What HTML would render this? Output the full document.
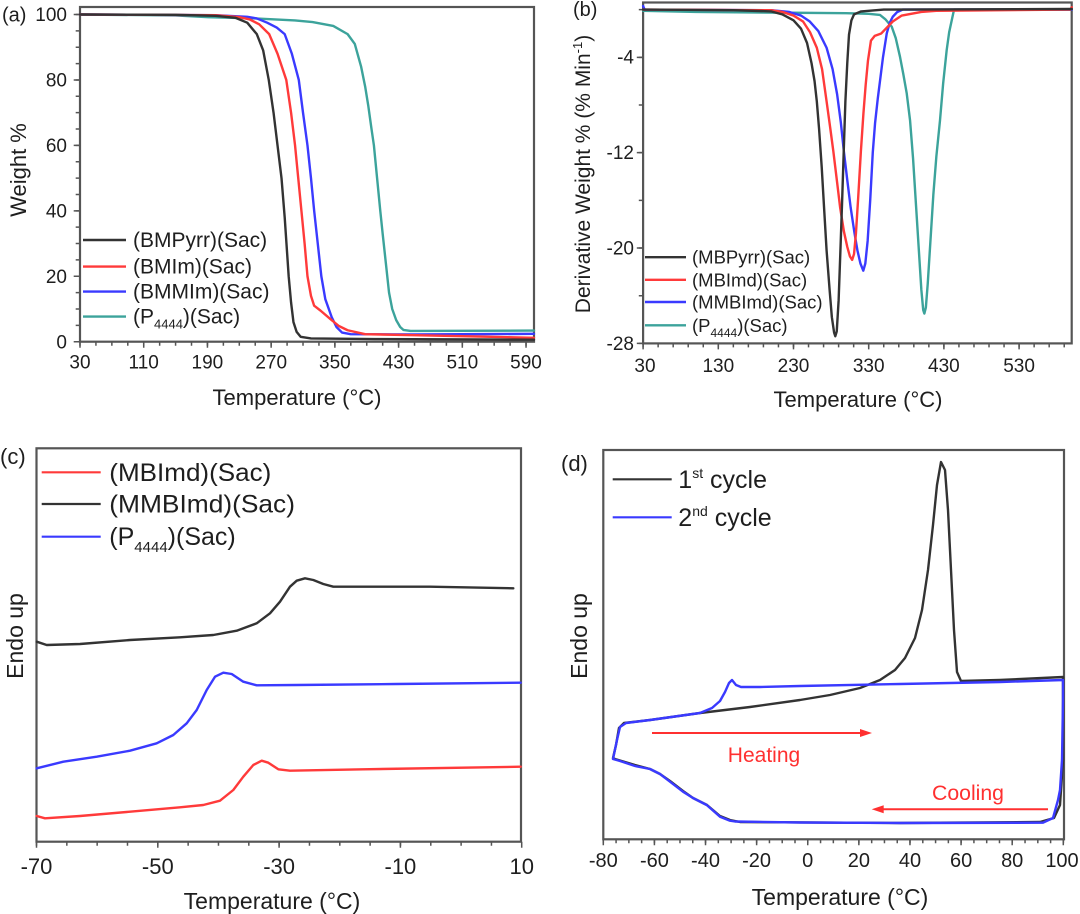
<!DOCTYPE html>
<html>
<head>
<meta charset="utf-8">
<style>
html,body{margin:0;padding:0;background:#fff;}
svg{display:block;}
text{font-family:"Liberation Sans",Arial,sans-serif;fill:#1e1e1e;}
</style>
</head>
<body>
<svg width="1080" height="914" viewBox="0 0 1080 914" xmlns="http://www.w3.org/2000/svg">
<rect width="1080" height="914" fill="#fff"/>

<!-- ================= PANEL (a) ================= -->
<g stroke="#555" fill="none">
  <rect x="80" y="7" width="454" height="334.7" stroke-width="2.2"/>
  <line x1="79.25" y1="343.7" x2="534" y2="343.7" stroke-width="4" stroke-dasharray="1.5 14.43"/>
  <line x1="79.25" y1="344.7" x2="534" y2="344.7" stroke-width="6" stroke-dasharray="1.5 62.22"/>
  <line x1="77.7" y1="342.45" x2="77.7" y2="7" stroke-width="4" stroke-dasharray="1.5 14.86"/>
  <line x1="76.7" y1="342.45" x2="76.7" y2="7" stroke-width="6" stroke-dasharray="1.5 63.94"/>
</g>
<g font-size="19" text-anchor="end">
  <text x="67" y="21">100</text>
  <text x="67" y="86.5">80</text>
  <text x="67" y="152">60</text>
  <text x="67" y="217.5">40</text>
  <text x="67" y="283">20</text>
  <text x="67" y="348.5">0</text>
</g>
<g font-size="19" text-anchor="middle">
  <text x="80" y="368.5">30</text>
  <text x="143.7" y="368.5">110</text>
  <text x="207.4" y="368.5">190</text>
  <text x="271.2" y="368.5">270</text>
  <text x="334.9" y="368.5">350</text>
  <text x="398.6" y="368.5">430</text>
  <text x="462.3" y="368.5">510</text>
  <text x="526" y="368.5">590</text>
</g>
<text x="2" y="21.5" font-size="20">(a)</text>
<text x="297" y="405" font-size="22" text-anchor="middle">Temperature (°C)</text>
<text transform="translate(26,170) rotate(-90)" font-size="22" text-anchor="middle">Weight %</text>

<g transform="matrix(0.7965,0,0,-3.272,56.1,341.7)" fill="none" stroke-width="2.4" stroke-linejoin="round" stroke-linecap="round">
  <polyline vector-effect="non-scaling-stroke" stroke="#3cA39b" points="30,100 150,99.7 191,99.2 250,98.8 300,98.2 322,97.7 348,96.5 366,94 375,91 383,84 388,78 392,72 396,65 399,60 403,50 407,40 410,33 414,24 418,15 422,10 427,6.6 432,4.5 436,3.6 445,3.3 600,3.4"/>
  <polyline vector-effect="non-scaling-stroke" stroke="#3a3aff" points="30,100 200,99.8 240,99.3 252,98.8 265,97.5 277,96 287,94 296,88 304.7,80 310,70 315.6,60 320,50 324,40 328.5,30 333,20 338,13 346,7.5 352,4.5 359,2.8 370,2.3 450,2.2 600,2.4"/>
  <polyline vector-effect="non-scaling-stroke" stroke="#ff3a3a" points="30,100 200,99.8 230,99.2 243,98.5 255,97 267.5,94 278,88 289,80 295,70 300,60 304,50 308,40 312,30 315.6,20 320,14 324,11 332,9.5 344,7 355,4.8 366,3.5 388,2.3 450,2 600,1.2"/>
  <polyline vector-effect="non-scaling-stroke" stroke="#333" points="30,100 150,99.9 200,99.6 225,99 240,97.5 252,94 260,89 267,80 273,70 278,60 283,50 287,38 292,20 295,12 298,6 302,3 307,1.5 320,1 400,0.8 600,0.6"/>
</g>
<!-- legend a -->
<g stroke-width="2.4">
  <line x1="83" y1="240" x2="126" y2="240" stroke="#333"/>
  <line x1="83" y1="266.6" x2="126" y2="266.6" stroke="#ff3a3a"/>
  <line x1="83" y1="291.6" x2="126" y2="291.6" stroke="#3a3aff"/>
  <line x1="83" y1="316.6" x2="126" y2="316.6" stroke="#3cA39b"/>
</g>
<g font-size="21">
  <text x="133" y="247">(BMPyrr)(Sac)</text>
  <text x="133" y="273.6">(BMIm)(Sac)</text>
  <text x="133" y="298.6">(BMMIm)(Sac)</text>
  <text x="133" y="323.6">(P<tspan font-size="13" dy="5">4444</tspan><tspan dy="-5">)(Sac)</tspan></text>
</g>

<!-- ================= PANEL (b) ================= -->
<g stroke="#555" fill="none">
  <rect x="643.1" y="2.5" width="428.6" height="340.9" stroke-width="2.2"/>
  <line x1="642.35" y1="345.4" x2="1071.7" y2="345.4" stroke-width="4" stroke-dasharray="1.5 13.54"/>
  <line x1="642.35" y1="346.4" x2="1071.7" y2="346.4" stroke-width="6" stroke-dasharray="1.5 73.7"/>
  <line x1="640.8" y1="344.15" x2="640.8" y2="2.5" stroke-width="4" stroke-dasharray="1.5 46.18"/>
  <line x1="639.8" y1="344.15" x2="639.8" y2="2.5" stroke-width="6" stroke-dasharray="1.5 93.86"/>
</g>
<g font-size="19" text-anchor="end">
  <text x="634" y="63.5">-4</text>
  <text x="634" y="159">-12</text>
  <text x="634" y="254.5">-20</text>
  <text x="634" y="350">-28</text>
</g>
<g font-size="19" text-anchor="middle">
  <text x="645" y="372">30</text>
  <text x="718.3" y="372">130</text>
  <text x="793.5" y="372">230</text>
  <text x="868.7" y="372">330</text>
  <text x="943.9" y="372">430</text>
  <text x="1019.1" y="372">530</text>
</g>
<text x="573" y="16" font-size="20">(b)</text>
<text x="858" y="407" font-size="22" text-anchor="middle">Temperature (°C)</text>
<text transform="translate(590,174) rotate(-90)" font-size="21" text-anchor="middle">Derivative Weight % (% Min<tspan font-size="13" dy="-8">-1</tspan><tspan dy="8">)</tspan></text>

<g transform="matrix(0.752,0,0,-11.92,620.54,9.6)" fill="none" stroke-width="2.4" stroke-linejoin="round" stroke-linecap="round">
  <polyline vector-effect="non-scaling-stroke" stroke="#3cA39b" points="30,-0.1 100,-0.2 300,-0.3 330,-0.35 345,-0.45 352,-0.8 360.6,-1.43 366,-2.4 371.6,-3.95 376,-5.4 380.5,-7 385,-9.3 389,-12.5 393,-16.5 397,-20.5 400,-23.5 402.5,-25.2 404,-25.5 406,-25 408.5,-23 412,-19.5 416,-15.5 420,-12.3 424.8,-9.3 429,-6.2 433.7,-3.4 437,-1.9 440.4,-0.9 443.5,0 600,0"/>
  <polyline vector-effect="non-scaling-stroke" stroke="#3a3aff" points="30,0.3 32,0 200,-0.05 224.6,-0.2 240,-0.5 251.7,-1 263,-1.8 274,-3.2 282,-5 288,-7.1 293,-9.5 297,-11.9 301.5,-14.3 306,-16.6 311,-18.7 315,-20.2 319,-21.3 322.8,-21.9 325.5,-21.3 328.6,-19.4 332,-16 335.4,-12 338.5,-9.5 342,-7.5 345,-6 349,-4 354,-2 358,-1.1 362,-0.6 368,-0.2 375,0 600,0"/>
  <polyline vector-effect="non-scaling-stroke" stroke="#ff3a3a" points="30,0 200,-0.05 215.5,-0.2 230,-0.5 242.7,-1 252,-1.9 261,-3.2 268,-5 274,-7.7 279,-10 283,-11.9 288,-14.5 292,-16.6 297,-18.6 301.5,-19.9 305,-20.7 308,-21 310.5,-20.5 313,-18.8 316,-15.8 319.6,-11.9 323,-8.7 326,-6.3 329,-4.3 333,-2.6 338,-2.2 346.7,-2 355.8,-1.4 362,-1.0 374,-0.5 400,-0.2 420,-0.1 598,0 600,0.2"/>
  <polyline vector-effect="non-scaling-stroke" stroke="#333" points="30,0 150,-0.05 200,-0.15 215,-0.4 230,-0.9 240,-1.6 248,-2.8 254,-4.5 258,-6 261,-7.7 264,-10 267.5,-13.2 271,-17 274,-20.2 278,-23.5 281,-25.8 284,-27.1 285.6,-27.4 287.5,-27 290,-24.4 292.5,-20 294.7,-16 297,-11.5 299,-7.7 301.5,-4.5 303.8,-2.1 307,-0.9 310.5,-0.4 320,-0.15 350,0 600,0.05"/>
</g>
<!-- legend b -->
<g stroke-width="2.4">
  <line x1="645" y1="257.2" x2="686" y2="257.2" stroke="#333"/>
  <line x1="645" y1="279.8" x2="686" y2="279.8" stroke="#ff3a3a"/>
  <line x1="645" y1="302" x2="686" y2="302" stroke="#3a3aff"/>
  <line x1="645" y1="325.3" x2="686" y2="325.3" stroke="#3cA39b"/>
</g>
<g font-size="18.5">
  <text x="692" y="263.7">(MBPyrr)(Sac)</text>
  <text x="692" y="286.3">(MBImd)(Sac)</text>
  <text x="692" y="308.5">(MMBImd)(Sac)</text>
  <text x="692" y="331.8">(P<tspan font-size="12" dy="5">4444</tspan><tspan dy="-5">)(Sac)</tspan></text>
</g>

<!-- ================= PANEL (c) ================= -->
<g stroke="#555" fill="none">
  <rect x="36.5" y="448.3" width="484.5" height="393.4" stroke-width="2.2"/>
  <line x1="35.75" y1="843.7" x2="521.5" y2="843.7" stroke-width="4" stroke-dasharray="1.5 28.83"/>
  <line x1="35.75" y1="844.7" x2="523" y2="844.7" stroke-width="6" stroke-dasharray="1.5 119.8"/>
</g>
<g font-size="22" text-anchor="middle">
  <text x="36.5" y="874">-70</text>
  <text x="157.8" y="874">-50</text>
  <text x="279.1" y="874">-30</text>
  <text x="400.4" y="874">-10</text>
  <text x="521.7" y="874">10</text>
</g>
<text x="0" y="464" font-size="22">(c)</text>
<text x="272" y="909" font-size="23" text-anchor="middle">Temperature (°C)</text>
<text transform="translate(23,636) rotate(-90)" font-size="23" text-anchor="middle">Endo up</text>

<g fill="none" stroke-width="2.4" stroke-linejoin="round" stroke-linecap="round">
  <polyline stroke="#333" points="36.7,641.7 46.7,645 80,644 130,640 180,637.3 213.3,635 236.7,630.7 256.7,623.3 270,613.3 280,601.7 290,586.7 296.7,580.7 305,578.3 313.3,580 323.3,584 333.3,586.7 363.3,586.7 430,586.7 513.3,588.3"/>
  <polyline stroke="#3a3aff" points="36.7,768.3 63.3,761.7 96.7,756.7 130,750.7 156.7,743.3 173.3,735 186.7,723.3 196.7,710 206.7,690 215,676.7 223.3,672.7 231.7,674 243.3,681.7 256.7,685.3 296.7,685 396.7,684 520.7,682.7"/>
  <polyline stroke="#ff3a3a" points="36.7,816 45,818.3 80,816 130,811.7 180,807.3 203.3,805 220,800.7 233.3,790 243.3,776.7 253.3,765 261.7,760.7 268.3,762.7 278.3,769.3 290,770.7 363.3,769.3 520.7,766.7"/>
</g>
<!-- legend c -->
<g stroke-width="2.2">
  <line x1="41.7" y1="472.3" x2="100.7" y2="472.3" stroke="#ff3a3a"/>
  <line x1="41.7" y1="504" x2="100.7" y2="504" stroke="#333"/>
  <line x1="41.7" y1="536.7" x2="100.7" y2="536.7" stroke="#3a3aff"/>
</g>
<g font-size="25">
  <text x="109.3" y="480.8" textLength="162" lengthAdjust="spacingAndGlyphs">(MBImd)(Sac)</text>
  <text x="109.3" y="512.5" textLength="185.7" lengthAdjust="spacingAndGlyphs">(MMBImd)(Sac)</text>
  <text x="109.3" y="545.2">(P<tspan font-size="15" dy="7">4444</tspan><tspan dy="-7">)(Sac)</tspan></text>
</g>

<!-- ================= PANEL (d) ================= -->
<g stroke="#555" fill="none">
  <rect x="603.3" y="450" width="460.7" height="389.3" stroke-width="2.2"/>
  <line x1="602.55" y1="841.3" x2="1064.5" y2="841.3" stroke-width="4" stroke-dasharray="1.5 11.28"/>
  <line x1="602.55" y1="842.3" x2="1065" y2="842.3" stroke-width="6" stroke-dasharray="1.5 49.61"/>
</g>
<g font-size="20" text-anchor="middle">
  <text x="603.3" y="867">-80</text>
  <text x="654.4" y="867">-60</text>
  <text x="705.5" y="867">-40</text>
  <text x="756.6" y="867">-20</text>
  <text x="807.7" y="867">0</text>
  <text x="858.9" y="867">20</text>
  <text x="910" y="867">40</text>
  <text x="961.1" y="867">60</text>
  <text x="1012.2" y="867">80</text>
  <text x="1062" y="867">100</text>
</g>
<text x="561" y="471" font-size="22">(d)</text>
<text x="840" y="905" font-size="23" text-anchor="middle">Temperature (°C)</text>
<text transform="translate(587,636) rotate(-90)" font-size="23" text-anchor="middle">Endo up</text>

<g fill="none" stroke-width="2.4" stroke-linejoin="round" stroke-linecap="round">
  <polyline stroke="#333" points="613,758 616,745 619,728 624,723 650,720 700,713 750,707 800,700 830,695 860,688 880,680 895,670 905,658 915,638 922,610 928,570 933,525 937,485 941,462 945,470 948,510 951,570 954,630 957,672 961,681 1000,680 1063,677 1063,760 1060,805 1054,818 1040,822 900,823 740,822 730,820 720,816 707,805 693,798 683,791 670,781 660,774 650,769 635,765 625,762 615,759 613,758"/>
  <polyline stroke="#3a3aff" points="613,759 617,740 620,727 626,723 650,720 700,713 712,708 720,701 725,692 729,683 732,680 736,685 741,687 760,687 800,686 900,684 1000,682 1063,680 1063,700 1062,760 1060,790 1058,800 1053,818 1043,822.7 900,823 800,822.5 735,821.5 730,820.7 720,816.7 706.7,805 693,798 683,791.7 670,781.7 660,774 650,769 635,766 620,761 613,759"/>
</g>
<!-- arrows -->
<g stroke="#ff3030" stroke-width="2">
  <line x1="652" y1="733" x2="862" y2="733"/>
  <line x1="1048" y1="809.3" x2="881" y2="809.3"/>
</g>
<polygon points="872,733 860,729 860,737" fill="#ff3030"/>
<polygon points="871.7,809.3 883.7,805.3 883.7,813.3" fill="#ff3030"/>
<text x="764" y="762" font-size="21" text-anchor="middle" style="fill:#ff3030">Heating</text>
<text x="968" y="800" font-size="21" text-anchor="middle" style="fill:#ff3030" textLength="72" lengthAdjust="spacingAndGlyphs">Cooling</text>
<!-- legend d -->
<g stroke-width="2.2">
  <line x1="612.7" y1="479.3" x2="671.7" y2="479.3" stroke="#333"/>
  <line x1="612.7" y1="517.3" x2="671.7" y2="517.3" stroke="#3a3aff"/>
</g>
<g font-size="25">
  <text x="678.3" y="488">1<tspan font-size="14" dy="-10">st</tspan><tspan dy="10"> cycle</tspan></text>
  <text x="678.3" y="526">2<tspan font-size="14" dy="-10">nd</tspan><tspan dy="10"> cycle</tspan></text>
</g>
</svg>
</body>
</html>
